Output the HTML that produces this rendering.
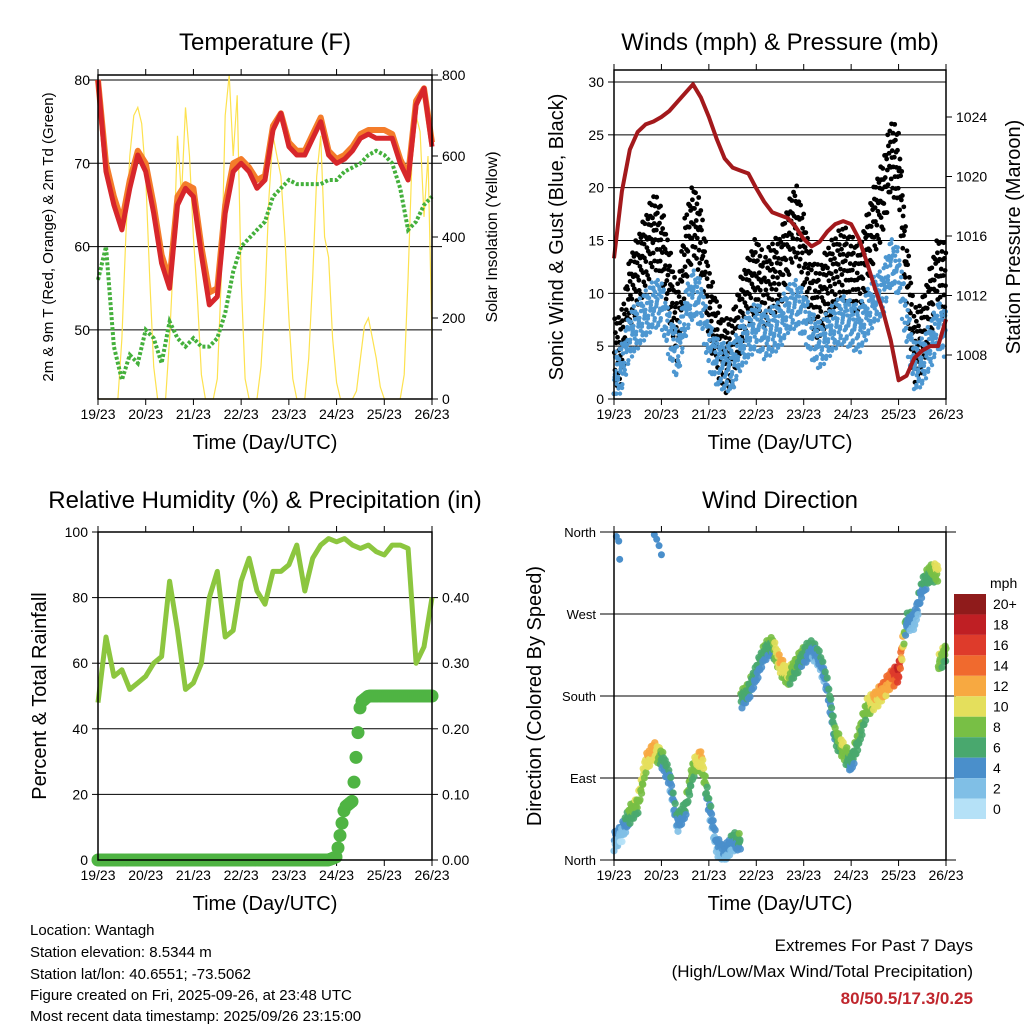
<!DOCTYPE html>
<html><head><meta charset="utf-8"><style>
html,body{margin:0;padding:0;background:#fff}
svg{display:block;font-family:"Liberation Sans",sans-serif}
</style></head><body>
<svg id="s" width="1024" height="1024" viewBox="0 0 1024 1024" xmlns="http://www.w3.org/2000/svg">
<rect width="1024" height="1024" fill="#fff"/>
<g id="g1"></g>
<g id="g2"></g>
<g id="g3"></g>
<g id="g4"></g>
<g font-size="15" fill="#000">
<text x="30" y="935">Location: Wantagh</text>
<text x="30" y="957">Station elevation: 8.5344 m</text>
<text x="30" y="979">Station lat/lon: 40.6551; -73.5062</text>
<text x="30" y="1000">Figure created on Fri, 2025-09-26, at 23:48 UTC</text>
<text x="30" y="1021">Most recent data timestamp: 2025/09/26 23:15:00</text>
</g>
<g font-size="17" text-anchor="end">
<text x="973" y="951">Extremes For Past 7 Days</text>
<text x="973" y="977">(High/Low/Max Wind/Total Precipitation)</text>
<text x="973" y="1004" fill="#c0262d" font-weight="bold">80/50.5/17.3/0.25</text>
</g>
</svg>
<script>
const dayLabels=["19/23","20/23","21/23","22/23","23/23","24/23","25/23","26/23"];
const tempRed=[80,69,65,62,67,71,69,64,58,55,65,67,66,59,53,54,64,69,70,69,67,68,74,76,72,71,71,73,75,71,70,70.5,71.5,73,73.5,73,73,73,70,68,77,79,72];
const tempOrange=[80,70,66,63,68,71.5,70,65,59,56,66,67.5,67,60,54.5,55,65,70,70.5,69.5,68,68.5,74.5,76,72.5,71.5,71.5,73.5,75.5,71.5,70.5,71,72,73.5,74,74,74,73.5,70.5,68.5,77.5,79,72.5];
const dewGreen=[56,60,48,44,47,46,50,49,46,51,49,48,49,48,48,49,52,57,60,61,62,63,66,67,68,67.5,67.5,67.5,67.5,68,68,69,69.5,70,71,71.5,71,70,67,62,63,65,66];
const solar=[0,0,0,0,0,0,150,400,600,700,720,680,550,300,80,0,0,0,150,350,650,500,720,600,400,250,60,0,0,0,50,300,700,800,600,750,300,50,0,0,0,80,250,500,650,600,550,400,200,50,0,0,0,100,300,550,650,400,350,150,40,0,0,0,0,20,100,180,200,150,100,30,0,0,0,0,0,60,300,600,700,660,450,600,150];
const gust=[4,5,10,12,14,16,15,11,7,14,17,15,9,6,4,4.5,8,10,12,10,11.5,12,15,17,14,10,9,11,12,13,12,11,14,17,19,23,22,12,5,6,9,12,11];
const wind=[2,3,6,7,8,9,9,6,4,8,10,9,5,3.5,3,3,5,6,7,6,6.5,7,8.5,9,8,6,5,6,7,7.5,7,6.5,8,9.5,10,13,12,7,3,3.5,5,7,6];
const pressure=[1014.5,1019,1021.8,1023,1023.5,1023.7,1024,1024.4,1025,1025.6,1026.2,1025.3,1024,1022.5,1021.2,1020.6,1020.4,1020.2,1019.2,1018.3,1017.6,1017.4,1017.2,1016.6,1015.8,1015.3,1015.6,1016.3,1016.8,1017,1016.8,1015.8,1014.2,1012.5,1011,1009,1006.3,1006.6,1007.8,1008.3,1008.6,1008.6,1010.4];
const rh=[48,68,56,58,52,54,56,60,62,85,70,52,54,60,80,88,68,70,85,92,82,78,88,88,90,96,82,92,96,98,97,98,96,95,96,94,93,96,96,95,60,65,80];
const precip=[0,0,0,0,0,0,0,0,0,0,0,0,0,0,0,0,0,0,0,0,0,0,0,0,0,0,0,0,0,0,0.005,0.08,0.09,0.24,0.25,0.25,0.25,0.25,0.25,0.25,0.25,0.25,0.25];
const windDir=[20,30,50,60,105,120,112,90,40,55,100,112,60,15,5,20,175,185,205,228,236,214,200,212,225,232,220,190,135,120,105,135,168,175,185,198,205,262,262,300,315,215,228];
const windSpd=[3,2,7,8,10,12,6,4,4,6,8,11,4,3,3,4,6,6,5,6,6,11,9,7,6,4,4,4,6,9,5,7,8,11,12,13,17,5,3,5,7,9,7];
const northDirTimes=[0.05,0.1,0.12,0.85,0.9,0.95,1.0];
const northDirVals=[355,350,330,357,352,345,335];
const speedTicks=["20+","18","16","14","12","10","8","6","4","2","0"];
const speedColors=["#b5e1f7","#80bfe6","#4a8fcb","#49a86e","#78bf45","#e4df5c","#f7a941","#f06a2e","#de3b2b","#bf1f24","#8f1b1b"];

const NS="http://www.w3.org/2000/svg";
function el(p,tag,at,txt){const e=document.createElementNS(NS,tag);for(const k in at)e.setAttribute(k,at[k]);if(txt!=null)e.textContent=txt;p.appendChild(e);return e;}
function lin(d0,d1,r0,r1){return v=>r0+(v-d0)*(r1-r0)/(d1-d0);}
const jit=[0,0.55,1,0.3,0.8,0.15,0.65,0.45,0.9,0.05,0.7,0.35,0.2,0.95,0.5,0.6,0.1,0.85,0.4,0.75];

function frame(g,L,R,T,B,title,xTitle,titleY){
  const t=el(g,'text',{x:(L+R)/2,y:titleY,'text-anchor':'middle','font-size':24},title);
  
  
  const xs=lin(0,7,L,R);
  dayLabels.forEach((d,i)=>{
    const x=xs(i);
    el(g,'line',{x1:x,x2:x,y1:B,y2:B+6,stroke:'#000','stroke-width':1});
    el(g,'line',{x1:x,x2:x,y1:T,y2:T-6,stroke:'#000','stroke-width':1});
    const tl=el(g,'text',{x:x,y:B+20,'text-anchor':'middle','font-size':14},d);
    
    
  });
  const xt=el(g,'text',{x:(L+R)/2,y:B+50,'text-anchor':'middle','font-size':20},xTitle);
  
  
  return xs;
}
function box(g,L,R,T,B){el(g,'rect',{x:L,y:T,width:R-L,height:B-T,fill:'none',stroke:'#000','stroke-width':1.5});}
function hgrid(g,y,x1,x2){el(g,'line',{x1:x1,x2:x2,y1:y,y2:y,stroke:'#000','stroke-width':1});}
function ylab(g,x,y,txt,anchor,size){const t=el(g,'text',{x:x,y:y+5,'text-anchor':anchor,'font-size':size||14},txt);}
function vtitle(g,x,y,txt,size,name){const t=el(g,'text',{x:x,y:y,'text-anchor':'middle','font-size':size,transform:`rotate(-90 ${x} ${y})`},txt);}
function path(xs,ys,arr,stepDays){return arr.map((v,i)=>(i?'L':'M')+xs(i*stepDays).toFixed(1)+','+ys(v).toFixed(1)).join('');}
function interp(arr,t,step){const f=t/step;const i=Math.min(Math.floor(f),arr.length-2);const r=f-i;return arr[i]+(arr[i+1]-arr[i])*r;}

// Panel 1
(function(){
  const g=document.getElementById('g1');const L=98,R=432,T=75,B=399;
  const xs=frame(g,L,R,T,B,'Temperature (F)','Time (Day/UTC)',50);
  const ys=lin(80,70,80,163.3);const ysR=lin(0,800,399,75);
  [80,70,60,50].forEach(v=>{hgrid(g,ys(v),88,442);ylab(g,L-8,ys(v),String(v),'end');});
  [0,200,400,600,800].forEach(v=>{el(g,'line',{x1:R,x2:R+6,y1:ysR(v),y2:ysR(v),stroke:'#000'});ylab(g,R+10,ysR(v),String(v),'start');});
  const sp=el(g,'path',{d:path(xs,ysR,solar,1/12),fill:'none',stroke:'#fde24f','stroke-width':1.2});
  
  const dg=el(g,'path',{d:path(xs,ys,dewGreen,1/6),fill:'none',stroke:'#44b03c','stroke-width':4,'stroke-dasharray':'3 2'});
  
  const po=el(g,'path',{d:path(xs,ys,tempOrange,1/6),fill:'none',stroke:'#f47c2a','stroke-width':6,'stroke-linejoin':'round'});
  
  const pr=el(g,'path',{d:path(xs,ys,tempRed,1/6),fill:'none',stroke:'#d7262b','stroke-width':5,'stroke-linejoin':'round'});
  
  box(g,L,R,T,B);
  vtitle(g,53,237,'2m & 9m T (Red, Orange) & 2m Td (Green)',15,'left-y-axis-title');
  vtitle(g,497,237,'Solar Insolation (Yellow)',16,'right-y-axis-title');
})();

// Panel 2
(function(){
  const g=document.getElementById('g2');const L=614,R=946,T=70,B=399;
  const xs=frame(g,L,R,T,B,'Winds (mph) & Pressure (mb)','Time (Day/UTC)',50);
  const ys=lin(0,30,399,82);const ysR=lin(1008,1024,355,117);
  [5,10,15,20,25,30].forEach(v=>hgrid(g,ys(v),L,R));
  [0,5,10,15,20,25,30].forEach(v=>{el(g,'line',{x1:L-6,x2:L,y1:ys(v),y2:ys(v),stroke:'#000'});ylab(g,L-10,ys(v),String(v),'end');});
  [1008,1012,1016,1020,1024].forEach(v=>{el(g,'line',{x1:R,x2:R+6,y1:ysR(v),y2:ysR(v),stroke:'#000'});ylab(g,R+10,ysR(v),String(v),'start');});
  const step=1/6;
  let n=0;
  for(let k=0;k<=332;k+=0.35){
    const t=k/332*7;const f=jit[n++%jit.length];
    const gv=interp(gust,t,step)+(f-0.5)*7;
    const c=el(g,'circle',{cx:xs(t),cy:ys(Math.max(gv,0.5)),r:2.4,fill:'#000'});
    
    
  }
  n=0;
  for(let k=0;k<=332;k+=0.3){
    const t=k/332*7;const f=jit[(n++*7)%jit.length];
    const wv=interp(wind,t,step)+(f-0.5)*4.5;
    const c=el(g,'circle',{cx:xs(t),cy:ys(Math.max(wv,0.5)),r:2.2,fill:'#4d97d1'});
    
    
  }
  const pp=el(g,'path',{d:path(xs,ysR,pressure,step),fill:'none',stroke:'#a3191c','stroke-width':4,'stroke-linejoin':'round'});
  
  box(g,L,R,T,B);
  vtitle(g,563,237,'Sonic Wind & Gust (Blue, Black)',20,'left-y-axis-title');
  vtitle(g,1020,237,'Station Pressure (Maroon)',20,'right-y-axis-title');
})();

// Panel 3
(function(){
  const g=document.getElementById('g3');const L=98,R=432,T=532,B=860;
  const xs=frame(g,L,R,T,B,'Relative Humidity (%) & Precipitation (in)','Time (Day/UTC)',508);
  const ys=lin(0,100,860,532);const ysR=lin(0,0.5,860,532);
  [20,40,60,80].forEach(v=>hgrid(g,ys(v),L,R));
  [0,20,40,60,80,100].forEach(v=>{el(g,'line',{x1:L-6,x2:L,y1:ys(v),y2:ys(v),stroke:'#000'});ylab(g,L-10,ys(v),String(v),'end');});
  ["0.00","0.10","0.20","0.30","0.40"].forEach(v=>{const y=ysR(+v);el(g,'line',{x1:R,x2:R+6,y1:y,y2:y,stroke:'#000'});ylab(g,R+10,y,v,'start');});
  const rp=el(g,'path',{d:path(xs,ys,rh,1/6),fill:'none',stroke:'#8cc63f','stroke-width':5,'stroke-linejoin':'round'});
  
  for(let k=0;k<=334;k+=2){
    const t=k/334*7;const v=interp(precip,t,1/6);
    const c=el(g,'circle',{cx:xs(t),cy:ysR(v),r:6.5,fill:'#4fb443'});
    
    
  }
  box(g,L,R,T,B);
  vtitle(g,46,696,'Percent & Total Rainfall',20,'left-y-axis-title');
})();

// Panel 4
(function(){
  const g=document.getElementById('g4');const L=614,R=946,T=532,B=860;
  const xs=frame(g,L,R,T,B,'Wind Direction','Time (Day/UTC)',508);
  const ys=lin(0,360,860,532);
  const dirs=["North","East","South","West","North"];
  [0,90,180,270,360].forEach((v,i)=>{hgrid(g,ys(v),600,956);ylab(g,L-18,ys(v),dirs[i],'end',13);});
  function col(s){let i=Math.min(10,Math.max(0,Math.round(s/2)));return speedColors[i];}
  let n=0;
  for(let k=0;k<=332;k+=0.4){
    const t=k/332*7;const f=jit[n++%jit.length];
    const i=Math.min(Math.floor(t*6),windDir.length-2);
    let d0=windDir[i],d1=windDir[i+1];
    if(Math.abs(d1-d0)>60){d1=d0;}
    const r=t*6-i;const d=d0+(d1-d0)*r+(f-0.5)*20;
    const s=interp(windSpd,t,1/6)+(f-0.5)*3;
    const c=el(g,'circle',{cx:xs(t),cy:ys(Math.max(1,Math.min(359,d))),r:3.6,fill:col(s),'fill-opacity':0.9});
    
    
  }
  northDirTimes.forEach((t,i)=>{
    const c=el(g,'circle',{cx:xs(t),cy:ys(northDirVals[i]),r:3.5,fill:'#4a8fcb'});
    
    
  });
  box(g,L,R,T,B);
  vtitle(g,541,696,'Direction (Colored By Speed)',20,'left-y-axis-title');
  const cb=el(g,'g',{});
  
  
  const h=225/11;
  el(cb,'text',{x:990,y:588,'text-anchor':'start','font-size':14,},'mph');
  speedTicks.forEach((lab,i)=>{
    const y=594+i*h;
    el(cb,'rect',{x:954,y:y,width:32,height:h,fill:speedColors[10-i],});
    el(cb,'text',{x:993,y:y+h/2+5,'font-size':14,},lab);
  });
})();
</script>
</body></html>
